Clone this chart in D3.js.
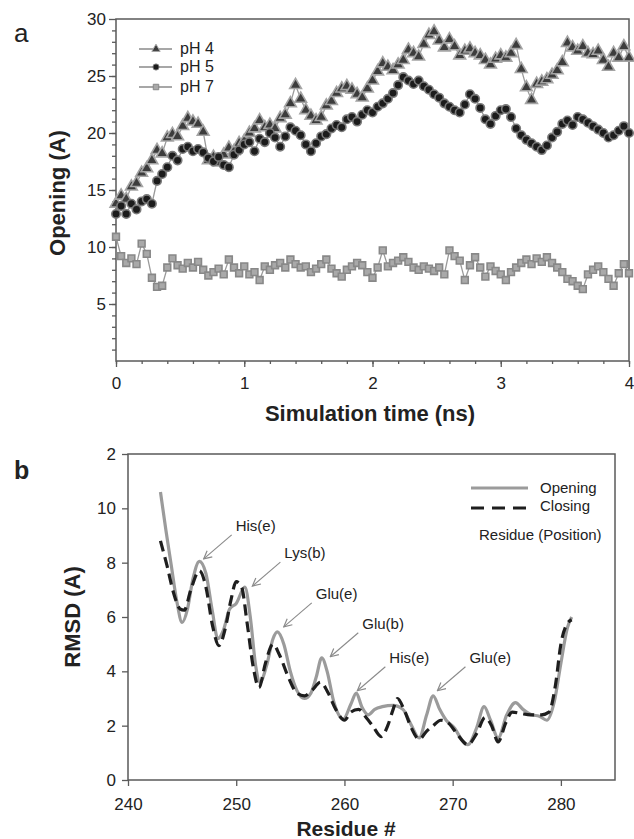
<!DOCTYPE html>
<html>
<head>
<meta charset="utf-8">
<script src="https://cdn.jsdelivr.net/npm/d3@7"></script>
<style>
  body { margin: 0; background: #fff; }
  svg { display: block; font-family: Arial, "Liberation Sans", sans-serif; }
</style>
</head>
<body>
<div class="chart"></div>
<script>
// ---- panel a: opening vs simulation time (sampled every 0.04 ns) ----
var simTime = d3.range(0, 101).map(i => +(i * 0.04).toFixed(2));

var ph4 = [13.8,14.5,14.2,15.3,15.6,16.5,16.9,17.6,18.5,18.2,
  19.6,19.9,19.7,20.6,21.3,21.0,20.8,20.1,17.6,17.9,
  17.4,18.1,18.7,18.4,19.1,19.3,20.0,20.4,21.1,20.5,
  20.7,20.4,21.3,21.6,22.6,24.2,23.0,22.0,21.5,21.1,
  21.4,22.4,22.8,23.5,23.9,24.1,23.8,23.4,23.1,23.9,
  24.6,25.4,26.1,25.8,25.5,26.0,26.4,27.3,27.0,26.7,
  27.8,28.6,28.9,28.1,27.5,28.2,27.6,26.8,27.2,27.4,
  27.0,26.8,26.4,26.0,26.5,26.8,26.6,27.0,27.7,25.6,
  24.0,22.9,24.3,24.5,24.7,25.1,25.5,26.2,27.9,27.5,
  27.2,27.6,27.0,26.9,27.2,26.4,25.8,27.0,26.6,27.6,26.6];

var ph5 = [12.9,13.6,12.9,13.8,13.3,14.0,14.2,13.8,15.8,16.4,
  17.0,18.0,17.6,18.6,18.8,18.4,18.6,18.3,17.8,17.5,
  17.9,17.2,17.0,18.1,18.5,19.0,19.2,18.4,19.5,19.2,
  20.0,19.6,18.8,19.7,20.5,20.2,19.8,19.0,18.4,19.1,
  19.7,19.9,20.4,20.7,20.5,21.2,21.4,21.0,21.6,22.0,
  21.8,22.3,22.6,23.0,23.5,24.2,24.9,24.6,24.3,24.6,
  24.1,23.8,23.4,23.1,22.6,22.3,22.0,21.8,22.5,23.4,
  23.0,22.2,21.2,20.8,21.5,22.0,22.1,21.4,20.4,19.8,
  19.4,19.1,18.8,18.5,18.9,19.6,20.1,20.8,21.1,20.7,
  21.4,21.2,20.9,20.6,20.3,20.0,19.6,19.8,20.2,20.6,20.0];

var ph7 = [10.9,9.2,8.6,9.0,8.5,10.3,9.4,7.3,6.5,6.6,
  8.2,9.0,8.4,8.1,8.6,8.2,8.7,8.0,7.5,7.8,
  8.1,7.6,8.9,8.2,7.7,8.3,7.6,7.8,7.1,8.3,
  8.0,8.4,8.6,8.2,8.9,8.5,8.2,8.3,7.8,8.1,
  8.5,8.9,8.1,7.7,7.4,8.0,8.3,8.6,8.4,7.8,
  7.3,8.2,9.7,8.3,8.6,8.8,9.1,8.7,8.2,8.0,
  8.3,8.1,7.9,8.2,7.6,9.7,9.2,8.8,7.1,8.4,
  9.1,8.2,7.4,8.3,7.9,7.6,7.1,7.8,8.2,8.6,
  8.9,8.5,9.0,8.7,9.1,8.6,8.2,7.8,7.2,7.0,
  6.6,6.3,7.6,8.0,8.3,7.8,7.2,6.6,7.7,8.5,7.7];

var phNames = ['pH 4', 'pH 5', 'pH 7'];
var aYTicks = [5, 10, 15, 20, 25, 30];
var aXTicks = [0, 1, 2, 3, 4];

// ---- panel b: RMSD vs residue ----
var openRes = [243.0,243.5,244.0,244.5,245.0,245.5,246.0,246.6,247.2,247.8,
  248.3,248.8,249.4,250.0,250.8,251.3,251.8,252.2,252.8,253.4,
  253.8,254.4,255.0,255.6,256.3,256.9,257.4,257.9,258.4,259.0,
  259.9,260.6,261.1,261.6,262.2,262.8,263.5,264.5,265.4,266.2,
  266.9,267.6,268.2,268.8,269.4,270.2,270.8,271.4,272.2,272.9,
  273.5,274.2,275.0,275.8,276.5,277.3,278.0,278.7,279.4,280.0,
  280.6,281.0];
var openRmsd = [10.6,9.2,7.9,6.6,5.8,6.3,7.4,8.05,7.6,6.2,
  5.2,5.5,6.3,6.5,7.1,6.0,4.2,3.6,4.2,5.2,
  5.45,5.0,4.0,3.3,3.0,3.2,3.8,4.5,4.0,2.9,
  2.25,2.8,3.2,2.7,2.4,2.6,2.7,2.75,2.6,2.0,
  1.55,2.4,3.1,2.6,2.2,1.9,1.5,1.3,1.9,2.7,
  2.2,1.55,2.4,2.85,2.6,2.4,2.35,2.2,2.9,4.3,
  5.6,6.0];

var closeRes = [243.0,243.6,244.2,244.8,245.2,245.8,246.6,247.2,247.8,248.4,
  249.0,249.5,250.0,250.5,251.0,251.6,252.1,252.7,253.4,254.0,
  254.8,255.6,256.3,257.0,257.8,258.5,259.2,260.0,260.6,261.3,
  262.0,262.6,263.4,264.0,264.5,264.9,265.5,266.2,266.9,267.6,
  268.2,268.9,269.6,270.4,271.4,272.2,273.0,273.6,274.2,274.9,
  275.5,276.3,277.2,278.2,278.9,279.5,280.0,280.5,281.0];
var closeRmsd = [8.8,7.9,6.9,6.3,6.25,7.0,7.7,7.1,5.7,4.95,
  5.6,6.6,7.3,7.1,5.8,4.1,3.4,4.3,5.0,4.6,
  3.8,3.2,3.1,3.3,3.6,3.2,2.6,2.2,2.5,2.6,
  2.3,2.0,1.6,2.0,2.6,3.0,2.6,1.9,1.5,1.8,
  2.0,2.2,2.1,1.7,1.3,1.7,2.3,2.0,1.4,2.1,
  2.5,2.45,2.4,2.4,2.5,3.5,5.0,5.7,5.9];

var noteLabels = ['His(e)', 'Lys(b)', 'Glu(e)', 'Glu(b)', 'His(e)', 'Glu(e)'];
var noteRes = [246.9, 251.4, 254.3, 258.6, 261.1, 268.5];
var noteRmsd = [8.1, 7.1, 5.6, 4.5, 3.25, 3.25];

var bYTicks = [0, 2, 4, 6, 8, 10, 12];
var bYTickLabels = ['0', '2', '4', '6', '8', '10', '2'];
var bXTicks = [240, 250, 260, 270, 280];

var axisColor = '#5a5a5a';

var svg = d3.select('.chart')
  .append('svg')
    .attr('width', 634)
    .attr('height', 839);

// ================= panel a =================
var pa = { left: 116, right: 629, top: 19, bottom: 361 };

var xA = d3.scaleLinear().domain([0, 4]).range([pa.left, pa.right]);
var yA = d3.scaleLinear().domain([0, 30]).range([pa.bottom, pa.top]);

svg.append('rect')
  .attr('x', pa.left).attr('y', pa.top)
  .attr('width', pa.right - pa.left).attr('height', pa.bottom - pa.top)
  .attr('fill', 'none').attr('stroke', axisColor).attr('stroke-width', 1.5);

// minor ticks
svg.append('g')
  .attr('transform', `translate(${pa.left},0)`)
  .call(d3.axisLeft(yA).tickValues(d3.range(1, 30)).tickSize(4).tickFormat(''))
  .call(g => g.select('.domain').remove());
svg.append('g')
  .attr('transform', `translate(0,${pa.bottom})`)
  .call(d3.axisBottom(xA).tickValues(d3.range(0, 21).map(i => i * 0.2)).tickSize(3).tickFormat(''))
  .call(g => g.select('.domain').remove());

var yAxisA = svg.append('g')
  .attr('transform', `translate(${pa.left},0)`)
  .call(d3.axisLeft(yA).tickValues(aYTicks).tickSize(7).tickPadding(3).tickSizeOuter(0));
var xAxisA = svg.append('g')
  .attr('transform', `translate(0,${pa.bottom})`)
  .call(d3.axisBottom(xA).tickValues(aXTicks).tickFormat(d3.format('d'))
    .tickSize(6).tickPadding(10).tickSizeOuter(0));

[yAxisA, xAxisA].forEach(function (g) {
  g.select('.domain').remove();
  g.selectAll('text').attr('font-size', 17).attr('fill', '#222').attr('font-family', 'Arial, Liberation Sans, sans-serif');
});
svg.selectAll('.tick line').attr('stroke', axisColor).attr('stroke-width', 1.3);

var symbolTypes = [d3.symbolTriangle, d3.symbolCircle, d3.symbolSquare];
var symFill = ['#3c3c3c', '#1c1c1c', '#a9a9a9'];
var symStroke = ['#a4a4a4', '#7a7a7a', '#888'];
var symSize = [60, 56, 46];
var seriesA = [ph4, ph5, ph7];

var lineA = d3.line()
  .x((d, i) => xA(simTime[i]))
  .y(d => yA(d));

[2, 0, 1].forEach(function (k) {
  svg.append('path')
    .attr('d', lineA(seriesA[k]))
    .attr('fill', 'none')
    .attr('stroke', '#9a9a9a')
    .attr('stroke-width', 1.3);
  svg.append('g').selectAll('path')
    .data(seriesA[k])
    .enter()
    .append('path')
      .attr('transform', (d, i) => `translate(${xA(simTime[i])},${yA(d)})`)
      .attr('d', d3.symbol().type(symbolTypes[k]).size(symSize[k]))
      .attr('fill', symFill[k])
      .attr('stroke', symStroke[k])
      .attr('stroke-width', 1.6);
});

// legend a
var legA = svg.append('g');
phNames.forEach(function (name, k) {
  var ly = [49, 67, 87][k];
  legA.append('line')
    .attr('x1', 139).attr('x2', 172).attr('y1', ly).attr('y2', ly)
    .attr('stroke', '#8a8a8a').attr('stroke-width', 1.5);
  legA.append('path')
    .attr('transform', `translate(156,${ly})`)
    .attr('d', d3.symbol().type(symbolTypes[k]).size(30))
    .attr('fill', symFill[k]).attr('stroke', symStroke[k]).attr('stroke-width', 1);
  legA.append('text')
    .attr('x', 180).attr('y', ly + 5)
    .attr('font-size', 16).attr('fill', '#222')
    .text(name);
});

svg.append('text').attr('x', 14).attr('y', 42)
  .attr('font-size', 26).attr('fill', '#222').text('a');

svg.append('text')
  .attr('x', 370).attr('y', 421)
  .attr('text-anchor', 'middle')
  .attr('font-size', 22).attr('font-weight', 'bold').attr('fill', '#222')
  .text('Simulation time (ns)');

svg.append('text')
  .attr('transform', 'translate(65,193) rotate(-90)')
  .attr('text-anchor', 'middle')
  .attr('font-size', 22).attr('font-weight', 'bold').attr('fill', '#222')
  .text('Opening (A)');

// ================= panel b =================
var pb = { left: 128, right: 615, top: 454, bottom: 780 };

var xB = d3.scaleLinear().domain([240, 285]).range([pb.left, pb.right]);
var yB = d3.scaleLinear().domain([0, 12]).range([pb.bottom, pb.top]);

svg.append('rect')
  .attr('x', pb.left).attr('y', pb.top)
  .attr('width', pb.right - pb.left).attr('height', pb.bottom - pb.top)
  .attr('fill', 'none').attr('stroke', axisColor).attr('stroke-width', 1.5);

var yAxisB = svg.append('g')
  .attr('transform', `translate(${pb.left},0)`)
  .call(d3.axisLeft(yB).tickValues(bYTicks).tickSize(6).tickPadding(6).tickSizeOuter(0)
    .tickFormat((d, i) => bYTickLabels[i]));
var xAxisB = svg.append('g')
  .attr('transform', `translate(0,${pb.bottom})`)
  .call(d3.axisBottom(xB).tickValues(bXTicks).tickSize(6).tickPadding(12).tickSizeOuter(0));

[yAxisB, xAxisB].forEach(function (g) {
  g.select('.domain').remove();
  g.selectAll('text').attr('font-size', 17).attr('fill', '#222').attr('font-family', 'Arial, Liberation Sans, sans-serif');
  g.selectAll('.tick line').attr('stroke', axisColor).attr('stroke-width', 1.3);
});

var lineB = d3.line().curve(d3.curveMonotoneX);

svg.append('path')
  .attr('d', lineB(openRes.map((r, i) => [xB(r), yB(openRmsd[i])])))
  .attr('fill', 'none')
  .attr('stroke', '#9b9b9b')
  .attr('stroke-width', 3.2);

svg.append('path')
  .attr('d', lineB(closeRes.map((r, i) => [xB(r), yB(closeRmsd[i])])))
  .attr('fill', 'none')
  .attr('stroke', '#1e1e1e')
  .attr('stroke-width', 3.2)
  .attr('stroke-dasharray', '11,6');

// annotations with arrows
svg.append('defs').append('marker')
  .attr('id', 'arr')
  .attr('viewBox', '0 0 10 10')
  .attr('refX', 9).attr('refY', 5)
  .attr('markerWidth', 9).attr('markerHeight', 9)
  .attr('orient', 'auto')
  .append('path')
    .attr('d', 'M1,1 L9,5 L1,9')
    .attr('fill', 'none').attr('stroke', '#8a8a8a').attr('stroke-width', 1.2);

noteLabels.forEach(function (lab, i) {
  var tx = xB(noteRes[i]), ty = yB(noteRmsd[i]);
  svg.append('line')
    .attr('x1', tx + 29).attr('y1', ty - 25)
    .attr('x2', tx + 1).attr('y2', ty - 1)
    .attr('stroke', '#8a8a8a').attr('stroke-width', 1.1)
    .attr('marker-end', 'url(#arr)');
  svg.append('text')
    .attr('x', tx + 33).attr('y', ty - 29)
    .attr('font-size', 15).attr('fill', '#222')
    .text(lab);
});

// legend b
var legB = svg.append('g');
legB.append('line').attr('x1', 471).attr('x2', 528).attr('y1', 488).attr('y2', 488)
  .attr('stroke', '#9b9b9b').attr('stroke-width', 3);
legB.append('line').attr('x1', 471).attr('x2', 528).attr('y1', 508).attr('y2', 508)
  .attr('stroke', '#1e1e1e').attr('stroke-width', 3).attr('stroke-dasharray', '13,8');
legB.append('text').attr('x', 540).attr('y', 493).attr('font-size', 15).attr('fill', '#222').text('Opening');
legB.append('text').attr('x', 540).attr('y', 511).attr('font-size', 15).attr('fill', '#222').text('Closing');
legB.append('text').attr('x', 479).attr('y', 540).attr('font-size', 15).attr('fill', '#222').text('Residue (Position)');

svg.append('text').attr('x', 14).attr('y', 479)
  .attr('font-size', 25).attr('font-weight', 'bold').attr('fill', '#222').text('b');

svg.append('text')
  .attr('x', 346).attr('y', 836)
  .attr('text-anchor', 'middle')
  .attr('font-size', 21).attr('font-weight', 'bold').attr('fill', '#222')
  .text('Residue #');

svg.append('text')
  .attr('transform', 'translate(80,617) rotate(-90)')
  .attr('text-anchor', 'middle')
  .attr('font-size', 22).attr('font-weight', 'bold').attr('fill', '#222')
  .text('RMSD (A)');
</script>
</body>
</html>
